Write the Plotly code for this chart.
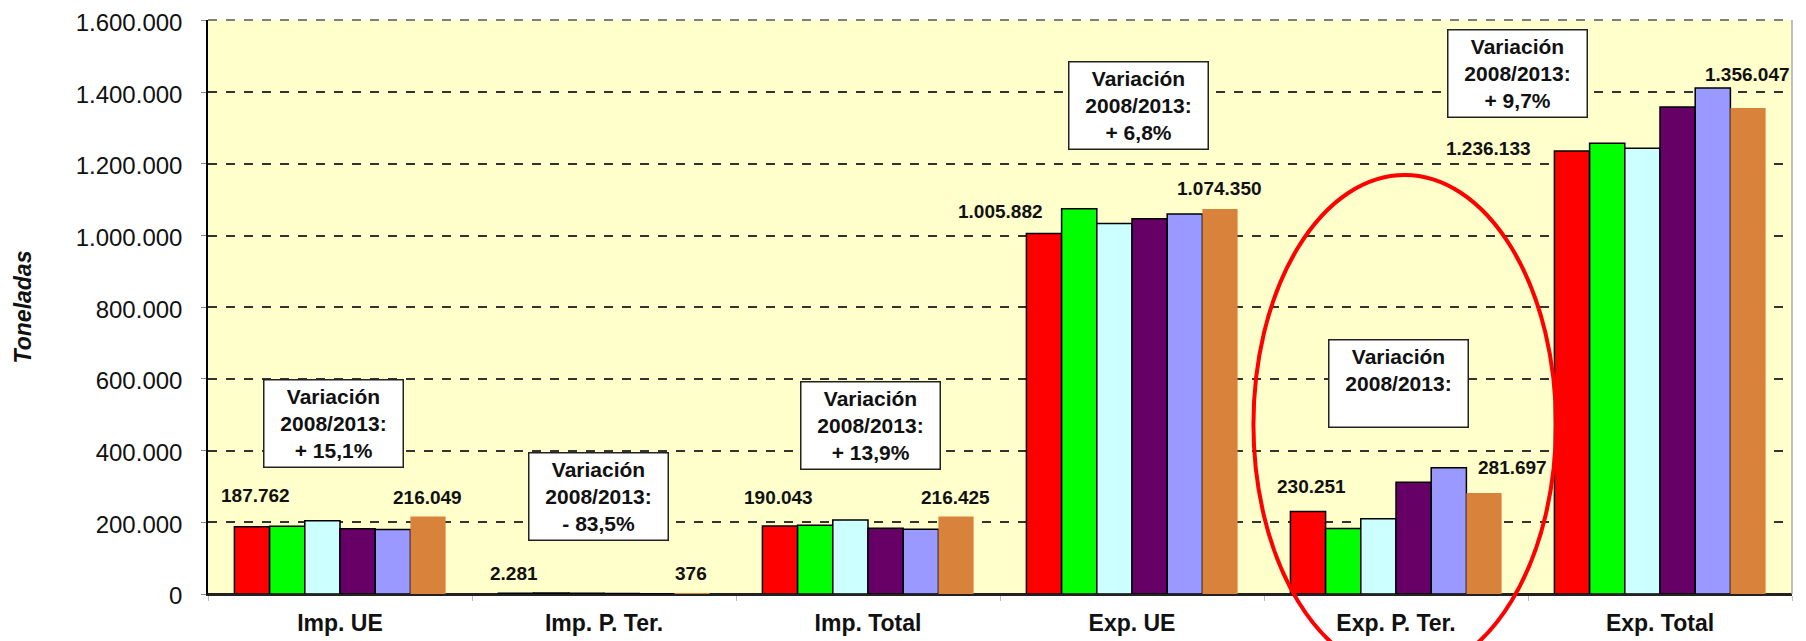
import plotly.graph_objects as go

categories = ["Imp. UE", "Imp. P. Ter.", "Imp. Total", "Exp. UE", "Exp. P. Ter.", "Exp. Total"]
series_names = ["2008", "2009", "2010", "2011", "2012", "2013"]
colors = ["#FF0000", "#00FF00", "#CCFFFF", "#660066", "#9999FF", "#D9823C"]

v2008 = [187762, 2281, 190043, 1005882, 230251, 1236133]
v2009 = [189000, 2600, 191600, 1075000, 182500, 1257500]
v2010 = [204500, 2200, 206700, 1034000, 210000, 1244000]
v2011 = [182000, 1400, 183400, 1047000, 312000, 1359000]
v2012 = [180000, 1000, 181000, 1060000, 352000, 1412000]
v2013 = [216049, 376, 216425, 1074350, 281697, 1356047]
series_values = [v2008, v2009, v2010, v2011, v2012, v2013]

y_ticks = [0, 200000, 400000, 600000, 800000, 1000000, 1200000, 1400000, 1600000]

variation_texts = [
    "Variación<br>2008/2013:<br>+ 15,1%",
    "Variación<br>2008/2013:<br>- 83,5%",
    "Variación<br>2008/2013:<br>+ 13,9%",
    "Variación<br>2008/2013:<br>+ 6,8%",
    "Variación<br>2008/2013:<br>\u00a0",
    "Variación<br>2008/2013:<br>+ 9,7%",
]

FONT = "Arial, Liberation Sans, sans-serif"

fig = go.Figure()
for name, vals, col in zip(series_names, series_values, colors):
    lw = 0 if col == "#D9823C" else 1.5
    fig.add_trace(go.Bar(
        x=categories, y=vals, name=name,
        marker=dict(color=col, line=dict(color="#000000", width=lw)),
        hoverinfo="x+y+name",
    ))

def fmt(v):
    return f"{v:,}".replace(",", ".")

# data labels: first and last series value per category
label_pos = [  # (x offset, y position in data units) for first / last labels
    ((-0.32, 275000), (0.33, 270000)),
    ((-0.34, 56000), (0.33, 56000)),
    ((-0.34, 270000), (0.33, 270000)),
    ((-0.50, 1068000), (0.33, 1130000)),
    ((-0.32, 300000), (0.44, 353000)),
    ((-0.65, 1244000), (0.33, 1450000)),
]
annotations = []
for i, ((dx1, y1), (dx2, y2)) in enumerate(label_pos):
    for dx, yy, val in ((dx1, y1, v2008[i]), (dx2, y2, v2013[i])):
        annotations.append(dict(
            x=i + dx, y=yy, xref="x", yref="y", text=f"<b>{fmt(val)}</b>",
            showarrow=False, font=dict(family=FONT, size=19, color="#111111"),
        ))

box_pos = [(-0.025, 477000), (0.979, 271000), (2.008, 469000),
           (3.023, 1363000), (4.009, 586000), (4.462, 1451000)]
for (bx, by), txt in zip(box_pos, variation_texts):
    annotations.append(dict(
        x=bx, y=by, xref="x", yref="y", text=f"<b>{txt}</b>",
        showarrow=False, font=dict(family=FONT, size=21, color="#111111"),
        bgcolor="#FFFFFF", bordercolor="#222222", borderwidth=1.5, borderpad=4,
        width=130, align="center",
    ))

fig.update_layout(
    width=1798, height=633,
    margin=dict(l=200, r=14, t=12, b=47),
    paper_bgcolor="#FFFFFF", plot_bgcolor="#FFFFCC",
    barmode="group", bargap=0.2, bargroupgap=0,
    showlegend=False,
    separators=",.",
    font=dict(family=FONT, color="#111111"),
    annotations=annotations,
    shapes=[
        dict(type="line", xref="paper", yref="paper", x0=1, x1=1, y0=0, y1=1,
             line=dict(color="#AAAAAA", width=1.5)),
        dict(type="line", xref="paper", yref="paper", x0=0, x1=1, y0=1, y1=1,
             line=dict(color="#555555", width=1.5, dash="dash")),
        dict(type="circle", xref="paper", yref="paper",
             x0=0.660, x1=0.851, y0=-0.139, y1=0.730,
             line=dict(color="#FF0000", width=4), fillcolor="rgba(0,0,0,0)"),
    ],
)
fig.update_yaxes(
    automargin=False,
    range=[0, 1601500], tickvals=y_ticks, tickformat=",d",
    ticklabeloverflow="allow", ticklabelshift=2,
    showgrid=True, gridcolor="#333333", griddash="dash", gridwidth=1.5,
    zeroline=True, zerolinecolor="#222222", zerolinewidth=1.5,
    showline=True, linecolor="#000000", linewidth=1.5,
    ticks="outside", ticklen=5, tickcolor="#888888",
    ticklabelstandoff=14,
    tickfont=dict(family=FONT, size=24, color="#111111"),
    title=dict(text="<b><i>Toneladas</i></b>", font=dict(family=FONT, size=23, color="#111111"),
               standoff=38),
)
fig.update_xaxes(
    automargin=False,
    showline=True, linecolor="#222222", linewidth=1.5,
    ticks="outside", tickson="boundaries", ticklen=5, tickcolor="#BBBBBB",
    ticklabelstandoff=8, ticklabeloverflow="allow",
    tickfont=dict(family=FONT, size=23, color="#111111"),
    tickprefix="<b>", ticksuffix="</b>",
)

fig.write_html("out.html")
